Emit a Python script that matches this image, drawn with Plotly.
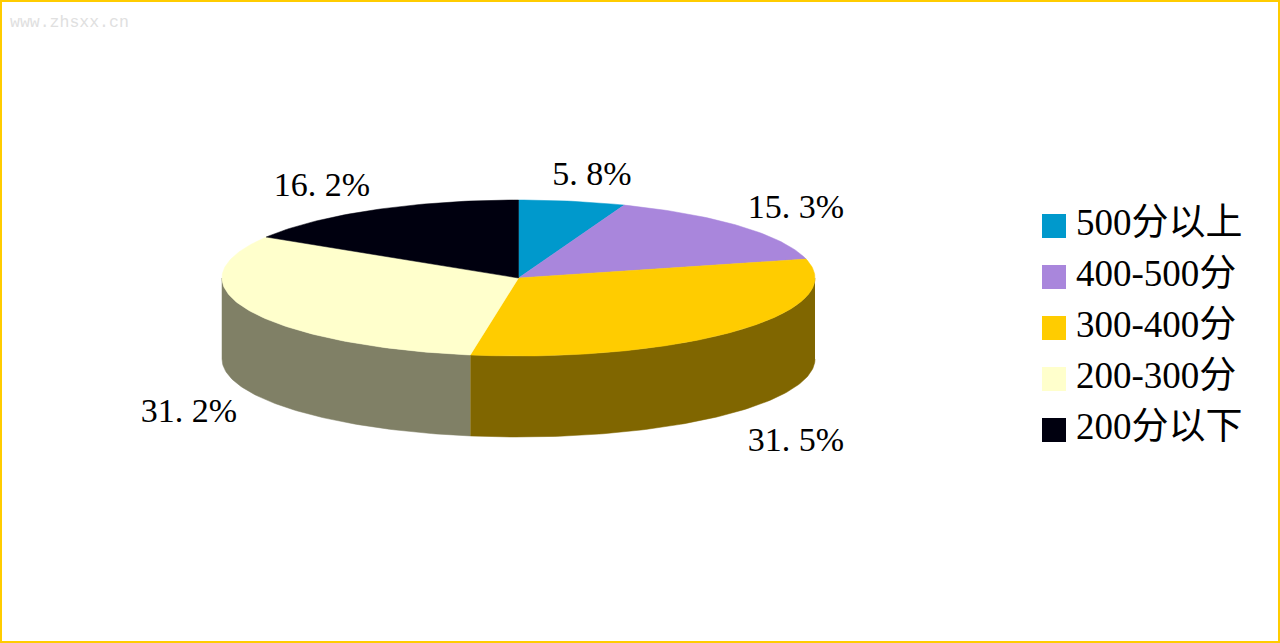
import numpy as np
import plotly.graph_objects as go

# Data
categories = ["500分以上", "400-500分", "300-400分", "200-300分", "200分以下"]
shares = [5.8, 15.3, 31.5, 31.2, 16.2]
colors = ["#0099CC", "#A986DC", "#FFCC00", "#FFFFCC", "#00000F"]
side_colors = ["#004D66", "#55436E", "#806600", "#808066", "#000008"]

# Geometry of the tilted disc, in page pixels
CX, CY, RX, RY, DEPTH = 518.5, 278.0, 296.5, 78.0, 81.0
SERIF = "'Liberation Serif', 'Noto Sans CJK SC', serif"

label_x = [592, 796, 796, 189, 322]
label_y = [176, 209, 442, 413, 187]
legend_y = [226, 277, 328, 379, 430]

fractions = np.cumsum([0.0] + shares) / sum(shares)
angles = fractions * 2 * np.pi  # clockwise from 12 o'clock


def arc(a0, a1, dy=0.0):
    t = np.linspace(a0, a1, max(int((a1 - a0) * 60), 2))
    return CX + RX * np.sin(t), CY - RY * np.cos(t) + dy


fig = go.Figure()


def poly(x, y, color):
    fig.add_trace(go.Scatter(x=list(x), y=list(y), mode="lines", fill="toself",
                             fillcolor=color, line=dict(width=0.5, color=color),
                             hoverinfo="skip", showlegend=False))


# Side wall: only the front half of the disc shows
for i, share in enumerate(shares):
    a0 = max(angles[i], np.pi / 2)
    a1 = min(angles[i + 1], 3 * np.pi / 2)
    if a1 <= a0:
        continue
    xt, yt = arc(a0, a1)
    xb, yb = arc(a0, a1, DEPTH)
    poly(np.r_[xt, xb[::-1]], np.r_[yt, yb[::-1]], side_colors[i])

# Top face
for i, share in enumerate(shares):
    xa, ya = arc(angles[i], angles[i + 1])
    poly(np.r_[CX, xa, CX], np.r_[CY, ya, CY], colors[i])

# Value labels
fig.add_trace(go.Scatter(
    x=label_x, y=label_y, mode="text",
    text=[f"{v:.1f}".replace(".", ". ") + "%" for v in shares],
    textposition="middle center",
    textfont=dict(family=SERIF, size=34, color="#000000"),
    hoverinfo="skip", showlegend=False))

# Key
fig.add_trace(go.Scatter(
    x=[1054] * len(categories), y=legend_y, mode="markers",
    marker=dict(symbol="square", size=24, color=colors, line=dict(width=0)),
    hoverinfo="skip", showlegend=False))
fig.add_trace(go.Scatter(
    x=[1076] * len(categories), y=legend_y, mode="text", text=categories,
    textposition="middle right",
    textfont=dict(family=SERIF, size=37, color="#000000"),
    hoverinfo="skip", showlegend=False))

fig.update_layout(
    width=1280, height=643, autosize=False,
    margin=dict(l=0, r=0, t=0, b=0),
    paper_bgcolor="#FFFFFF", plot_bgcolor="#FFFFFF",
    xaxis=dict(visible=False, range=[0, 1280], fixedrange=True),
    yaxis=dict(visible=False, range=[643, 0], fixedrange=True),
    shapes=[dict(type="rect", xref="paper", yref="paper", x0=0, x1=1, y0=0, y1=1,
                 line=dict(color="#FFCC00", width=4), layer="above")],
    annotations=[dict(text="www.zhsxx.cn", xref="x", yref="y", x=8, y=22,
                      xanchor="left", yanchor="middle", showarrow=False,
                      font=dict(family="'Liberation Mono', monospace", size=16.5,
                                color="#E0E0E0"))],
)

fig.write_html("out.html", config={"displayModeBar": False},
               post_script="document.body.style.margin='0';document.documentElement.style.overflow='hidden';")
